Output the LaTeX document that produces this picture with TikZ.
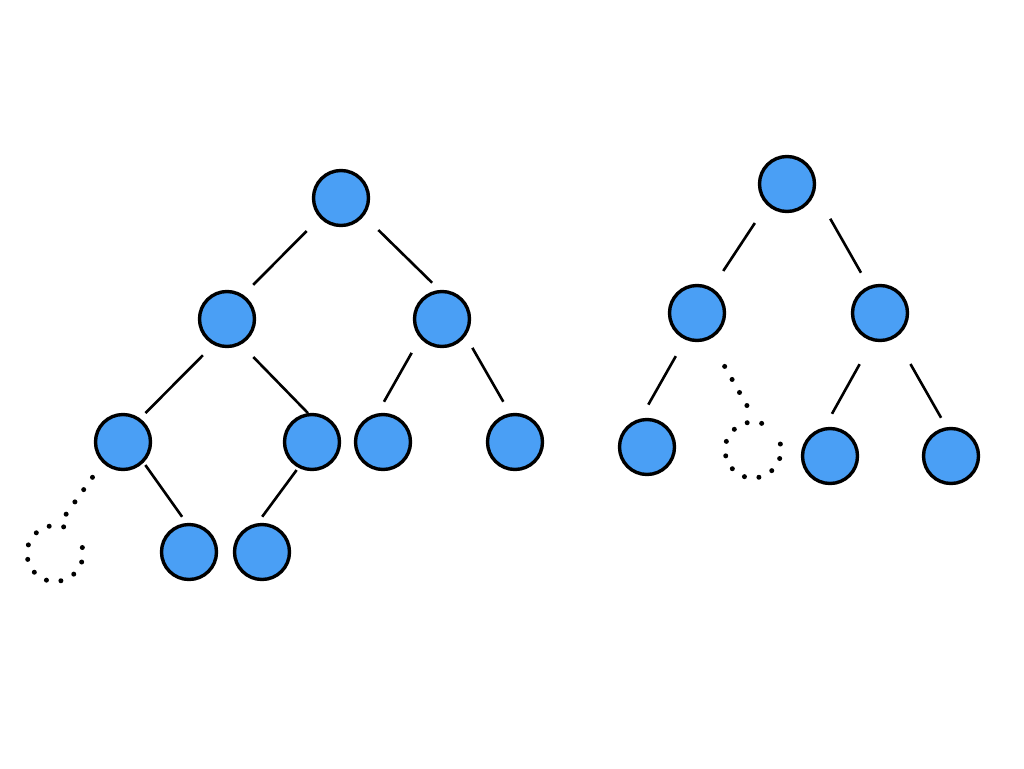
\documentclass[tikz,border=0pt]{standalone}
\definecolor{nodeblue}{HTML}{4A9FF5}
\tikzset{
  tnode/.style={circle,draw=black,line width=3.4pt,fill=nodeblue,minimum size=55pt,inner sep=0pt},
  ghost/.style={circle,minimum size=56pt,inner sep=0pt,outer sep=0pt},
  ghostring/.style={line width=5pt,line cap=round,dash pattern=on 0pt off 14.66pt},
  edge/.style={line width=2.6pt,black},
  dotedge/.style={line width=5pt,line cap=round,dash pattern=on 0pt off 15.1pt}
}
\begin{document}
\begin{tikzpicture}[x=1pt,y=-1pt]
\useasboundingbox (0,0) rectangle (1024,768);
% left tree
\node[tnode] (A) at (341,198) {};
\node[tnode] (B) at (227,319) {};
\node[tnode] (C) at (442,319) {};
\node[tnode] (D) at (123,442) {};
\node[tnode] (E) at (312,442) {};
\node[tnode] (F) at (383,442) {};
\node[tnode] (G) at (515,442) {};
\node[tnode] (H) at (189,552) {};
\node[tnode] (I) at (262,552) {};
\node[ghost] (L) at (55,553.5) {};
\draw[ghostring] (L.72) arc[start angle=72,end angle=372.5,radius=28pt];
\draw[edge,shorten <=18.4pt,shorten >=14pt] (A.223.6) -- (B.56.3);
\draw[edge,shorten <=20pt,shorten >=10.2pt] (A.-38.4) -- (C.95.3);
\draw[edge,shorten <=14.7pt,shorten >=7.5pt] (B.242) -- (D.54.8);
\draw[edge,shorten <=17.4pt] (B.-61.4) -- (E.98);
\draw[edge,shorten <=16.9pt,shorten >=13.3pt] (C.221.8) -- (F.101.1);
\draw[edge,shorten <=13.5pt,shorten >=13.3pt] (C.-36.6) -- (G.100.7);
\draw[edge,shorten <=2.9pt,shorten >=7.5pt] (D.-45.6) -- (H.95.1);
\draw[edge,shorten <=2.8pt,shorten >=8pt] (E.242.7) -- (I.99.5);
\draw[dotedge,shorten <=17.6pt,shorten >=12.4pt] (D.226.7) -- (L.84.8);
% right tree
\node[tnode] (R) at (787,184) {};
\node[tnode] (R1) at (697,313) {};
\node[tnode] (R2) at (880,313) {};
\node[tnode] (R3) at (647,447) {};
\node[ghost] (RG) at (753,450) {};
\draw[ghostring] (RG.72) arc[start angle=72,end angle=372.5,radius=28pt];
\node[tnode] (R5) at (830,456) {};
\node[tnode] (R6) at (951,456) {};
\draw[edge,shorten <=21.6pt,shorten >=20.4pt] (R.226.4) -- (R1.59.5);
\draw[edge,shorten <=30.7pt,shorten >=15.4pt] (R.-16.9) -- (R2.113.1);
\draw[edge,shorten <=18.9pt,shorten >=16pt] (R1.246.4) -- (R3.103.8);
\draw[edge,shorten <=26.3pt,shorten >=15.5pt] (R2.255.6) -- (R5.101.1);
\draw[edge,shorten <=30.2pt,shorten >=10.8pt] (R2.-58.8) -- (R6.99.1);
\draw[dotedge,dash pattern=on 0pt off 15pt,shorten <=31pt,shorten >=17.5pt] (R1.-65.8) -- (RG.83.4);
\end{tikzpicture}
\end{document}
